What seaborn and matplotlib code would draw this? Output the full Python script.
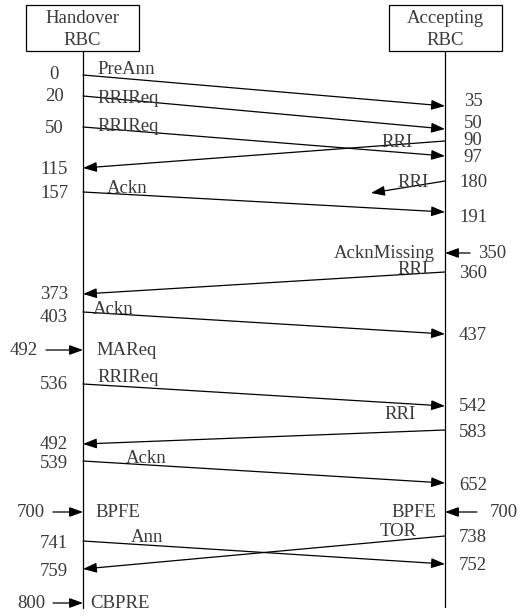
import matplotlib.pyplot as plt
import seaborn as sns
from matplotlib.patches import Rectangle

# messages between Handover RBC (H) and Accepting RBC (A)
msg_names = ['PreAnn', 'RRIReq', 'RRIReq', 'RRI', 'RRI', 'Ackn', 'RRI', 'Ackn',
             'RRIReq', 'RRI', 'Ackn', 'TOR', 'Ann']
msg_from = ['H', 'H', 'H', 'A', 'A', 'H', 'A', 'H', 'H', 'A', 'H', 'A', 'H']
send_t = [0, 20, 50, 90, 180, 157, 360, 403, 536, 583, 539, 738, 741]
recv_t = [35, 50, 97, 115, None, 191, 373, 437, 542, 492, 652, 759, 752]

# external events hitting one lifeline
ext_names = ['AcknMissing', 'MAReq', 'BPFE', 'BPFE', 'CBPRE']
ext_side = ['A', 'H', 'H', 'A', 'H']
ext_t = [350, 492, 700, 700, 800]

# ---- layout (pixel rows of the diagram) ----
W, H = 522, 616
xH, xA = 83, 445
send_y = [75, 96, 127, 141, 181, 192, 272, 312, 384, 430, 461, 536, 541]
recv_y = [106, 129, 156, 168, 193, 212, 294, 334, 406, 444, 483, 569, 564]
lost_x = 371
send_lab_y = [73, 95, 127, 139, 181, 192, 272, 316, 383, 431, 462, 536, 542]
recv_lab_y = [100, 122, 156, 168, None, 216, 293, 334, 405, 443, 484, 570, 564]
name_x = [97, 97, 97, 413, 429, 107, 429, 93, 97, 416, 126, 417, 131]
name_y = [68, 97, 125, 141, 181, 187, 268, 308, 376, 413, 457, 530, 536]

ext_y = [253, 350, 512, 512, 603]
ext_x0 = [470, 46, 53, 477, 53]
ext_num_x = [492, 24, 31, 504, 31]
ext_name_x = [435, 96, 95, 436, 90]

sns.set_theme(style='white')
plt.rcParams['font.family'] = ['Liberation Serif', 'DejaVu Serif']
fs = 13.5
tc = '#3a3a3a'
dy = 1.5  # text centre sits a little high, nudge down

fig = plt.figure(figsize=(W / 100, H / 100), dpi=100)
ax = fig.add_axes([0, 0, 1, 1])
ax.set_xlim(0, W)
ax.set_ylim(H, 0)
ax.axis('off')

# participant boxes
for x0, top, bot in [(26, 'Handover', 'RBC'), (389, 'Accepting', 'RBC')]:
    ax.add_patch(Rectangle((x0, 5), 113, 46, fill=False, ec='black', lw=0.9))
    ax.text(x0 + 56.5, 17 + dy, top, ha='center', va='center', fontsize=fs, color=tc)
    ax.text(x0 + 56.5, 39 + dy, bot, ha='center', va='center', fontsize=fs, color=tc)

# lifelines
sns.lineplot(x=[xH, xH], y=[51, 608], ax=ax, color='black', lw=0.9,
             estimator=None, sort=False)
sns.lineplot(x=[xA, xA], y=[51, 607], ax=ax, color='black', lw=0.9,
             estimator=None, sort=False)

arrow = dict(arrowstyle='-|>,head_length=0.55,head_width=0.2', mutation_scale=15,
             lw=0.9, color='black', shrinkA=0, shrinkB=0)
num_x = {xH: 54, xA: 473}

for i, name in enumerate(msg_names):
    if msg_from[i] == 'H':
        xs, xr = xH, xA
    else:
        xs, xr = xA, xH
    if recv_t[i] is None:
        xr_end = lost_x
    else:
        xr_end = xr
    ax.annotate('', xy=(xr_end, recv_y[i]), xytext=(xs, send_y[i]), arrowprops=arrow)
    # time labels
    ax.text(num_x[xs], send_lab_y[i] + dy, str(send_t[i]), ha='center', va='center',
            fontsize=fs, color=tc)
    if recv_t[i] is not None:
        ax.text(num_x[xr], recv_lab_y[i] + dy, str(recv_t[i]), ha='center',
                va='center', fontsize=fs, color=tc)
    ha = 'left' if msg_from[i] == 'H' else 'right'
    ax.text(name_x[i], name_y[i] + dy, name, ha=ha, va='center', fontsize=fs, color=tc)

for i, name in enumerate(ext_names):
    xl = xH if ext_side[i] == 'H' else xA
    ax.annotate('', xy=(xl, ext_y[i]), xytext=(ext_x0[i], ext_y[i]), arrowprops=arrow)
    ax.text(ext_num_x[i], ext_y[i] + dy - 1, str(ext_t[i]), ha='center', va='center',
            fontsize=fs, color=tc)
    ha = 'left' if ext_side[i] == 'H' else 'right'
    ax.text(ext_name_x[i], ext_y[i] + dy - 1, name, ha=ha, va='center',
            fontsize=fs, color=tc)

fig.savefig('out.png', dpi=100)
